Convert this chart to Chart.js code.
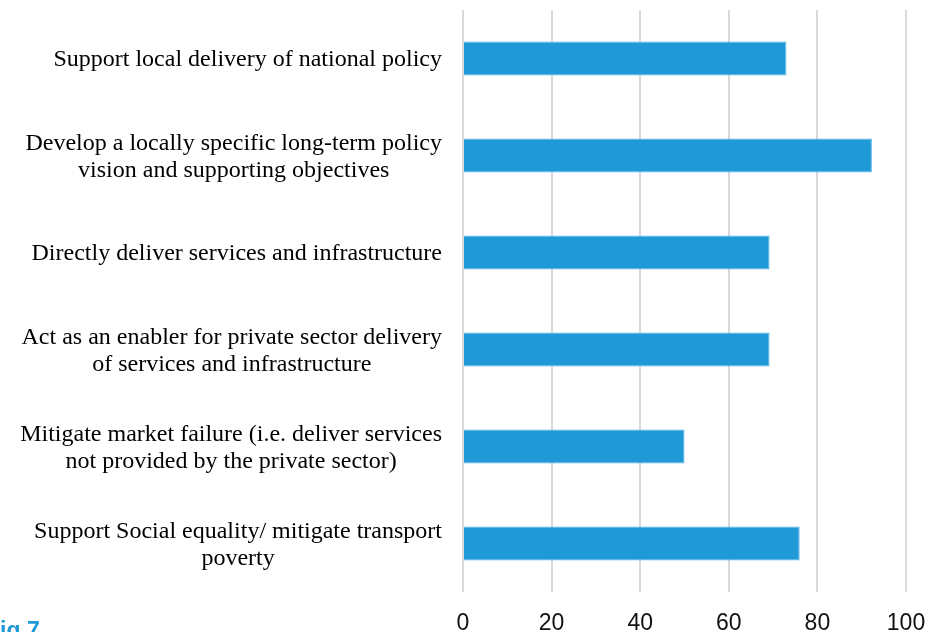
<!DOCTYPE html>
<html>
<head>
<meta charset="utf-8">
<script src="https://cdn.jsdelivr.net/npm/chart.js@4"></script>
<style>
  html, body { margin: 0; padding: 0; background: #fff; }
  #wrap { width: 944px; height: 632px; }
</style>
</head>
<body>
<div id="wrap"><canvas id="myChart" width="944" height="632"></canvas></div>
<script>
// role statements, each split over the lines it's printed on
var roles = [
  ['Support local delivery of national policy'],
  ['Develop a locally specific long-term policy', 'vision and supporting objectives'],
  ['Directly deliver services and infrastructure'],
  ['Act as an enabler for private sector delivery', 'of services and infrastructure'],
  ['Mitigate market failure (i.e. deliver services', 'not provided by the private sector)'],
  ['Support Social equality/ mitigate transport', 'poverty']
];
var shares = [73, 92.3, 69.2, 69.2, 50, 76];
var axisMin = 0;
var axisMax = 100;
var axisStep = 20;
var figLabel = 'Fig 7';

var serif = '"Liberation Serif", "Times New Roman", serif';
var sans = '"Liberation Sans", Arial, sans-serif';

// category labels: lines centred on each other, block pushed up against the bars
var roleLabels = {
  id: 'roleLabels',
  afterDraw: function (chart) {
    var c = chart.ctx;
    var y = chart.scales.y;
    var right = chart.chartArea.left - 21;
    var lh = 27.5;
    c.save();
    c.font = '24px ' + serif;
    c.fillStyle = '#000';
    c.textAlign = 'center';
    c.textBaseline = 'middle';
    roles.forEach(function (lines, i) {
      var w = 0;
      lines.forEach(function (t) { w = Math.max(w, c.measureText(t).width); });
      var cx = right - w / 2;
      var cy = y.getPixelForValue(i) + 1.5 - (lines.length - 1) * lh / 2;
      lines.forEach(function (t, j) {
        c.fillText(t, cx, cy + j * lh);
      });
    });
    // figure tag in the bottom left corner
    c.font = 'bold 23px ' + sans;
    c.fillStyle = '#1F9AD6';
    c.textAlign = 'left';
    c.textBaseline = 'alphabetic';
    c.fillText(figLabel, -14, 638);
    c.restore();
  }
};

var ctx = document.getElementById('myChart');

var myChart = new Chart(ctx, {
  type: 'bar',
  data: {
    labels: roles,
    datasets: [{
      data: shares,
      backgroundColor: '#1F9AD6',
      borderColor: '#55B5E6',
      borderWidth: 1,
      barPercentage: 0.35,
      categoryPercentage: 1
    }]
  },
  options: {
    indexAxis: 'y',
    responsive: false,
    animation: false,
    layout: { padding: { top: 10, right: 38, left: 0, bottom: 0 } },
    plugins: {
      legend: { display: false },
      tooltip: { enabled: false }
    },
    scales: {
      x: {
        min: axisMin,
        max: axisMax,
        border: { display: false },
        grid: { color: '#D9D9D9', lineWidth: 2, drawTicks: false },
        ticks: {
          stepSize: axisStep,
          padding: 18,
          color: '#111',
          font: { family: sans, size: 23 }
        },
        afterFit: function (s) { s.height = 40; }
      },
      y: {
        border: { display: false },
        grid: { display: false },
        ticks: { display: false },
        afterFit: function (s) { s.width = 463; }
      }
    }
  },
  plugins: [roleLabels]
});
</script>
</body>
</html>
